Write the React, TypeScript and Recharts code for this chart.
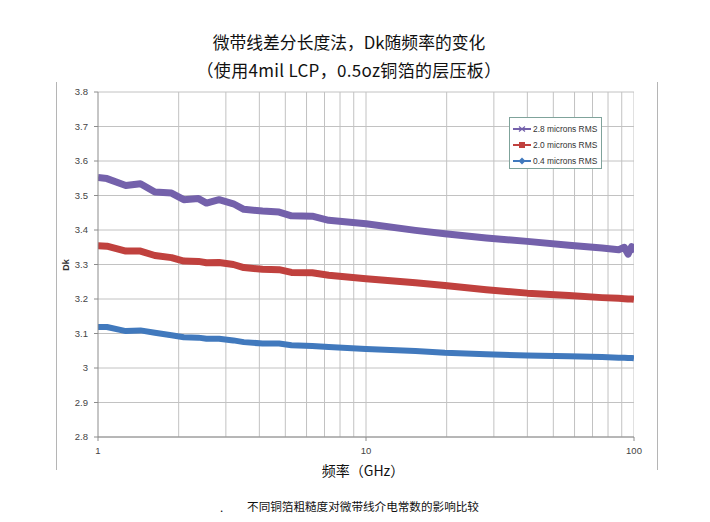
import React from 'react';
import { LineChart, Line, XAxis, YAxis, CartesianGrid, ReferenceLine, Legend } from 'recharts';

const freqGHz = [1, 1.08, 1.27, 1.44, 1.63, 1.88, 2.09, 2.37, 2.54, 2.83, 3.2, 3.5, 4.11, 4.74, 5.27, 6.3, 7.26, 10, 15.3, 19.7, 28.1, 40, 57.2, 76, 87.7, 92, 95, 98, 100];
const dk28 = [3.552, 3.549, 3.529, 3.534, 3.51, 3.507, 3.488, 3.491, 3.478, 3.488, 3.476, 3.46, 3.455, 3.452, 3.441, 3.44, 3.428, 3.418, 3.399, 3.389, 3.377, 3.367, 3.356, 3.348, 3.343, 3.35, 3.33, 3.352, 3.335];
const dk20 = [3.354, 3.353, 3.339, 3.339, 3.326, 3.32, 3.31, 3.309, 3.305, 3.306, 3.3, 3.291, 3.286, 3.285, 3.277, 3.276, 3.269, 3.259, 3.247, 3.239, 3.227, 3.217, 3.21, 3.204, 3.202, 3.201, 3.2, 3.2, 3.199];
const dk04 = [3.119, 3.119, 3.107, 3.109, 3.102, 3.095, 3.089, 3.088, 3.085, 3.085, 3.08, 3.075, 3.071, 3.071, 3.066, 3.064, 3.061, 3.055, 3.049, 3.044, 3.04, 3.036, 3.034, 3.032, 3.03, 3.03, 3.029, 3.029, 3.028];

const seriesNames = ['2.8 microns RMS', '2.0 microns RMS', '0.4 microns RMS'];
const seriesColors = ['#7461ab', '#c0413e', '#4179bd'];
const yTicks = [2.8, 2.9, 3, 3.1, 3.2, 3.3, 3.4, 3.5, 3.6, 3.7, 3.8];
const yTickLabels = ['2.8', '2.9', '3', '3.1', '3.2', '3.3', '3.4', '3.5', '3.6', '3.7', '3.8'];
const xTicks = [1, 10, 100];
const xGridValues = [2, 3, 4, 5, 6, 7, 8, 9, 10, 20, 30, 40, 50, 60, 70, 80, 90, 100];

const titleLine1 = '微带线差分长度法，Dk随频率的变化';
const titleLine2 = '（使用4mil LCP，0.5oz铜箔的层压板）';
const xAxisTitle = '频率（GHz）';
const yAxisTitle = 'Dk';
const caption = '不同铜箔粗糙度对微带线介电常数的影响比较';

const data = freqGHz.map((f, i) => ({ f, a: dk28[i], b: dk20[i], c: dk04[i] }));

const CJK = '"Noto Sans CJK SC", "Noto Sans", sans-serif';
const TICKFONT = '"Liberation Sans", Arial, sans-serif';

const Marker = ({ idx, color }: { idx: number; color: string }) => {
  if (idx === 0) {
    return (
      <g stroke={color} strokeWidth={1.2}>
        <line x1={6} y1={1.5} x2={12} y2={6.5} />
        <line x1={6} y1={6.5} x2={12} y2={1.5} />
      </g>
    );
  }
  if (idx === 1) return <rect x={6} y={1} width={6} height={6} fill={color} />;
  return <polygon points="9,0.5 12.5,4 9,7.5 5.5,4" fill={color} />;
};

const LegendBox = (props: any) => {
  const payload = [...(props.payload || [])].sort(
    (p: any, q: any) => seriesNames.indexOf(p.value) - seriesNames.indexOf(q.value)
  );
  return (
    <div
      style={{
        width: 93,
        height: 52,
        boxSizing: 'border-box',
        border: '1px solid #7fa39b',
        background: '#fff',
        paddingTop: 3,
        paddingLeft: 3,
      }}
    >
      {payload.map((p: any) => {
        const idx = seriesNames.indexOf(p.value);
        return (
          <div key={p.value} style={{ display: 'flex', alignItems: 'center', height: 16 }}>
            <svg width={19} height={8} style={{ display: 'block' }}>
              <line x1={0} y1={4} x2={18} y2={4} stroke={p.color} strokeWidth={2} />
              <Marker idx={idx} color={p.color} />
            </svg>
            <span style={{ fontFamily: TICKFONT, fontSize: 8.4, color: '#333', marginLeft: 1, whiteSpace: 'nowrap' }}>
              {p.value}
            </span>
          </div>
        );
      })}
    </div>
  );
};

export default function App() {
  return (
    <div style={{ position: 'absolute', left: 0, top: 0, width: 710, height: 522, background: '#fff', overflow: 'hidden' }}>
      <div style={{ position: 'absolute', left: 0, width: 698, top: 30, lineHeight: '24px', textAlign: 'center', fontFamily: CJK, fontSize: 16.8, color: '#111' }}>
        {titleLine1}
      </div>
      <div style={{ position: 'absolute', left: 0, width: 698, top: 58, lineHeight: '24px', textAlign: 'center', fontFamily: CJK, fontSize: 17, letterSpacing: 0.3, color: '#111' }}>
        {titleLine2}
      </div>
      <div style={{ position: 'absolute', left: 56, top: 82, width: 1, height: 388, background: '#b5b5b5' }} />
      <div style={{ position: 'absolute', left: 657, top: 82, width: 1, height: 388, background: '#b5b5b5' }} />

      <LineChart width={710} height={522} data={data} margin={{ top: 92, right: 76, bottom: 55, left: 0 }}>
        <CartesianGrid vertical={false} stroke="#c2c2c2" strokeWidth={1} />
        {xGridValues.map((v) => (
          <ReferenceLine key={v} x={v} stroke="#c2c2c2" strokeWidth={1} ifOverflow="hidden" />
        ))}
        <XAxis
          dataKey="f"
          type="number"
          scale="log"
          domain={[1, 100]}
          ticks={xTicks}
          allowDataOverflow
          height={30}
          tickSize={4}
          tickMargin={6}
          stroke="#8c8c8c"
          tick={{ fontFamily: TICKFONT, fontSize: 9.5, fill: '#444' }}
        />
        <YAxis
          type="number"
          domain={[2.8, 3.8]}
          ticks={yTicks}
          width={98}
          tickSize={4}
          tickMargin={6}
          stroke="#8c8c8c"
          tickFormatter={(v: number) => yTickLabels[yTicks.indexOf(v)] ?? String(v)}
          tick={{ fontFamily: TICKFONT, fontSize: 9.5, fill: '#444' }}
        />
        <Legend
          layout="horizontal"
          verticalAlign="middle"
          align="center"
          content={<LegendBox />}
          wrapperStyle={{ position: 'absolute', left: 509, top: 117, width: 93, height: 52 }}
        />
        <Line dataKey="a" name={seriesNames[0]} stroke={seriesColors[0]} strokeWidth={7} dot={false} isAnimationActive={false} type="linear" strokeLinejoin="round" />
        <Line dataKey="b" name={seriesNames[1]} stroke={seriesColors[1]} strokeWidth={7} dot={false} isAnimationActive={false} type="linear" strokeLinejoin="round" />
        <Line dataKey="c" name={seriesNames[2]} stroke={seriesColors[2]} strokeWidth={6} dot={false} isAnimationActive={false} type="linear" strokeLinejoin="round" />
      </LineChart>

      <div style={{ position: 'absolute', left: 66 - 20, top: 265 - 7, width: 40, height: 14, lineHeight: '14px', textAlign: 'center', transform: 'rotate(-90deg)', fontFamily: TICKFONT, fontWeight: 'bold', fontSize: 9, color: '#333' }}>
        {yAxisTitle}
      </div>
      <div style={{ position: 'absolute', left: 263, width: 200, top: 460, lineHeight: '20px', textAlign: 'center', fontFamily: CJK, fontSize: 14, color: '#111' }}>
        {xAxisTitle}
      </div>
      <div style={{ position: 'absolute', left: 220, top: 500, lineHeight: '14px', fontFamily: CJK, fontSize: 11.6, color: '#111' }}>.</div>
      <div style={{ position: 'absolute', left: 213, width: 300, top: 498, lineHeight: '16px', textAlign: 'center', fontFamily: CJK, fontSize: 11.6, color: '#111' }}>
        {caption}
      </div>
    </div>
  );
}
